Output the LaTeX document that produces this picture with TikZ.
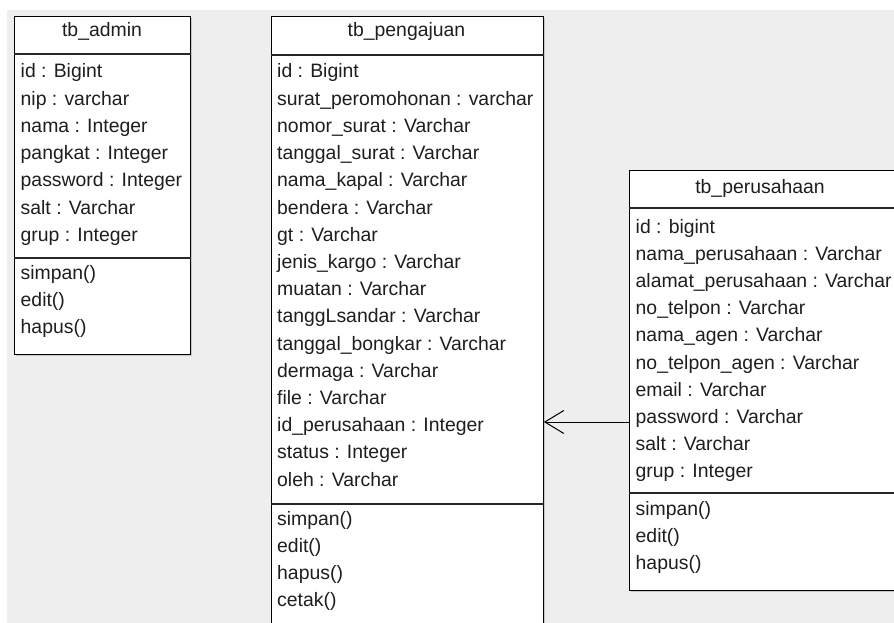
\documentclass[tikz,border=0pt]{standalone}
\usepackage{fontspec}
\setmainfont{Liberation Sans}
\usetikzlibrary{arrows.meta}
\usetikzlibrary{shadows}

\definecolor{bggray}{HTML}{EEEEEE}
\definecolor{inkgray}{HTML}{1E1E1E}

\tikzset{
  classbox/.style={draw=black, line width=1.4pt, fill=white, anchor=north west,
    drop shadow={shadow xshift=1.5pt, shadow yshift=-1.5pt, opacity=0.35}},
  sepline/.style={draw=black!85, line width=1.2pt},
  row/.style={anchor=base west, inner sep=0pt, text=inkgray,
    font=\fontsize{19.4}{23}\selectfont},
  classtitle/.style={row, anchor=base},
}

\begin{document}
\begin{tikzpicture}[x=1pt, y=-1pt]
\def\rowh{27.2}

\useasboundingbox (0,0) rectangle (894,623);
\clip (0,0) rectangle (894,623);
\fill[white] (0,0) rectangle (894,623);
\fill[bggray] (7,10) rectangle (894,623);

% tb_admin
\node[classbox, minimum width=176pt, minimum height=338pt] (admin) at (14,16) {};
\draw[sepline] (admin.west |- 0,54) -- (admin.east |- 0,54);
\draw[sepline] (admin.west |- 0,258) -- (admin.east |- 0,258);
\node[classtitle] (admin-t) at (102,37) {tb\_admin};
\foreach \txt [count=\i] in {id : Bigint, nip : varchar, nama : Integer,
    pangkat : Integer, password : Integer, salt : Varchar, grup : Integer}
  \node[row] (admin-a\i) at (20.5,{78+(\i-1)*\rowh}) {\txt};
\foreach \txt [count=\i] in {simpan(), edit(), hapus()}
  \node[row] (admin-m\i) at (20.5,{279+(\i-1)*\rowh}) {\txt};

% tb_pengajuan
\node[classbox, minimum width=272pt, minimum height=630pt] (peng) at (270.5,16) {};
\draw[sepline] (peng.west |- 0,55) -- (peng.east |- 0,55);
\draw[sepline] (peng.west |- 0,504) -- (peng.east |- 0,504);
\node[classtitle] (peng-t) at (406.5,37) {tb\_pengajuan};
\foreach \txt [count=\i] in {id : Bigint, surat\_peromohonan : varchar,
    nomor\_surat : Varchar, tanggal\_surat : Varchar, nama\_kapal : Varchar,
    bendera : Varchar, gt : Varchar, jenis\_kargo : Varchar, muatan : Varchar,
    tanggLsandar : Varchar, tanggal\_bongkar : Varchar, dermaga : Varchar,
    file : Varchar, id\_perusahaan : Integer, status : Integer, oleh : Varchar}
  \node[row] (peng-a\i) at (277,{78+(\i-1)*\rowh}) {\txt};
\foreach \txt [count=\i] in {simpan(), edit(), hapus(), cetak()}
  \node[row] (peng-m\i) at (277,{525+(\i-1)*\rowh}) {\txt};

% tb_perusahaan
\node[classbox, minimum width=290pt, minimum height=420pt] (peru) at (628.5,170) {};
\draw[sepline] (peru.west |- 0,208) -- (peru.east |- 0,208);
\draw[sepline] (peru.west |- 0,493) -- (peru.east |- 0,493);
\node[classtitle] (peru-t) at (760,193) {tb\_perusahaan};
\foreach \txt [count=\i] in {id : bigint, nama\_perusahaan : Varchar,
    alamat\_perusahaan : Varchar, no\_telpon : Varchar, nama\_agen : Varchar,
    no\_telpon\_agen : Varchar, email : Varchar, password : Varchar,
    salt : Varchar, grup : Integer}
  \node[row] (peru-a\i) at (635.5,{233+(\i-1)*\rowh}) {\txt};
\foreach \txt [count=\i] in {simpan(), edit(), hapus()}
  \node[row] (peru-m\i) at (635.5,{515+(\i-1)*\rowh}) {\txt};

% relation
\coordinate (peru-link) at (peru.west |- 0,422);
\draw[line width=1pt, -{Straight Barb[length=19pt, width=23pt]}]
  (peru-link) -- (peru-link -| peng.east);
\end{tikzpicture}
\end{document}
